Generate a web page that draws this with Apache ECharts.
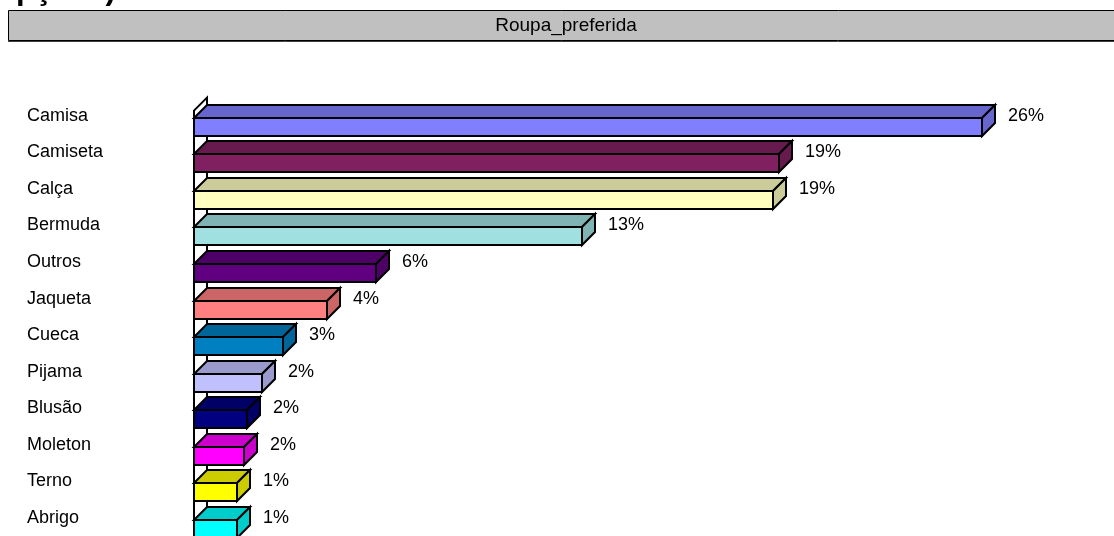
<!DOCTYPE html>
<html>
<head>
<meta charset="utf-8">
<script src="https://cdn.jsdelivr.net/npm/echarts@6/dist/echarts.min.js"></script>
<style>
  html, body { margin: 0; padding: 0; background: #fff; }
  #chart { width: 1114px; height: 536px; }
</style>
</head>
<body>
<div id="chart"></div>
<script>
// dados (percentual de respostas)
const categories = ['Camisa', 'Camiseta', 'Calça', 'Bermuda', 'Outros', 'Jaqueta', 'Cueca', 'Pijama', 'Blusão', 'Moleton', 'Terno', 'Abrigo'];
const values = [26.0, 19.3, 19.1, 12.8, 6.0, 4.4, 2.95, 2.25, 1.75, 1.65, 1.45, 1.45];
const barColors = ['#8080FF', '#802060', '#FFFFC0', '#A0E0E0', '#600080', '#FF8080', '#0080C0', '#C0C0FF', '#000080', '#FF00FF', '#FFFF00', '#00FFFF'];

const FONT = '"Liberation Sans", Arial, sans-serif';
const gridLeft = 193.5;
const gridTop = 97.6;
const depth = 13;

// escurece a cor para as faces de cima/lado
const shade = (hex, k) => {
  const n = parseInt(hex.slice(1), 16);
  const r = Math.round(((n >> 16) & 255) * k);
  const g = Math.round(((n >> 8) & 255) * k);
  const b = Math.round((n & 255) * k);
  return 'rgb(' + r + ',' + g + ',' + b + ')';
};

const chart = echarts.init(document.getElementById('chart'));

const renderBar = (params, api) => {
  const idx = api.value(1);
  const p0 = api.coord([0, idx]);
  const p1 = api.coord([api.value(0), idx]);
  const cy = Math.round(p0[1]);
  const x0 = p0[0] + 0.5;
  const x1 = Math.round(p1[0]);
  const front = barColors[params.dataIndex];
  const dark = shade(front, 0.8);
  const line = { stroke: '#000', lineWidth: 2, lineJoin: 'miter' };
  const yTop = cy + 2, yBot = cy + 20;
  return {
    type: 'group',
    children: [
      { type: 'polygon', shape: { points: [[x0, yTop], [x0 + depth, yTop - depth], [x1 + depth, yTop - depth], [x1, yTop]] },
        style: Object.assign({ fill: dark }, line) },
      { type: 'polygon', shape: { points: [[x1, yTop], [x1 + depth, yTop - depth], [x1 + depth, yBot - depth], [x1, yBot]] },
        style: Object.assign({ fill: dark }, line) },
      { type: 'rect', shape: { x: x0, y: yTop, width: x1 - x0, height: yBot - yTop },
        style: Object.assign({ fill: front }, line) },
      { type: 'text', x: x1 + depth + 13, y: cy,
        style: { text: Math.round(api.value(0)) + '%', fill: '#000', font: '18px ' + FONT, align: 'left', verticalAlign: 'middle' } }
    ]
  };
};

const option = {
  animation: false,
  backgroundColor: '#fff',
  graphic: [
    { type: 'text', x: -3, y: -10, z: 10,
      style: { text: 'opções)', fill: '#000', font: 'bold 31px ' + FONT, verticalAlign: 'middle' } },
    { type: 'rect', shape: { x: 8.5, y: 10.5, width: 1120, height: 30 }, z: 10,
      style: { fill: '#C0C0C0', stroke: '#000', lineWidth: 1 } },
    { type: 'line', shape: { x1: 8, y1: 41.5, x2: 1114, y2: 41.5 }, z: 10,
      style: { stroke: '#404040', lineWidth: 1 } },
    { type: 'text', x: 566, y: 26, z: 11,
      style: { text: 'Roupa_preferida', fill: '#000', font: '19px ' + FONT, align: 'center', verticalAlign: 'middle' } },
    // parede lateral 3D do eixo
    { type: 'polygon', z: 0,
      shape: { points: [[gridLeft + 0.5, gridTop + depth], [gridLeft + depth + 0.5, gridTop], [gridLeft + depth + 0.5, 560], [gridLeft + 0.5, 560]] },
      style: { fill: '#fff', stroke: '#000', lineWidth: 2 } }
  ],
  grid: { left: gridLeft, top: gridTop, width: 910, height: 440.4 },
  xAxis: { type: 'value', min: 0, max: 30, show: false },
  yAxis: {
    type: 'category',
    inverse: true,
    data: categories,
    axisLine: { show: false },
    axisTick: { show: false },
    splitLine: { show: false },
    axisLabel: { align: 'left', margin: 166.5, fontSize: 18, fontFamily: FONT, color: '#000' }
  },
  series: [{
    type: 'custom',
    z: 5,
    clip: false,
    renderItem: renderBar,
    encode: { x: 0, y: 1 },
    data: values.map((v, i) => [v, i])
  }]
};

chart.setOption(option);
window.addEventListener('resize', () => chart.resize());
</script>
</body>
</html>
